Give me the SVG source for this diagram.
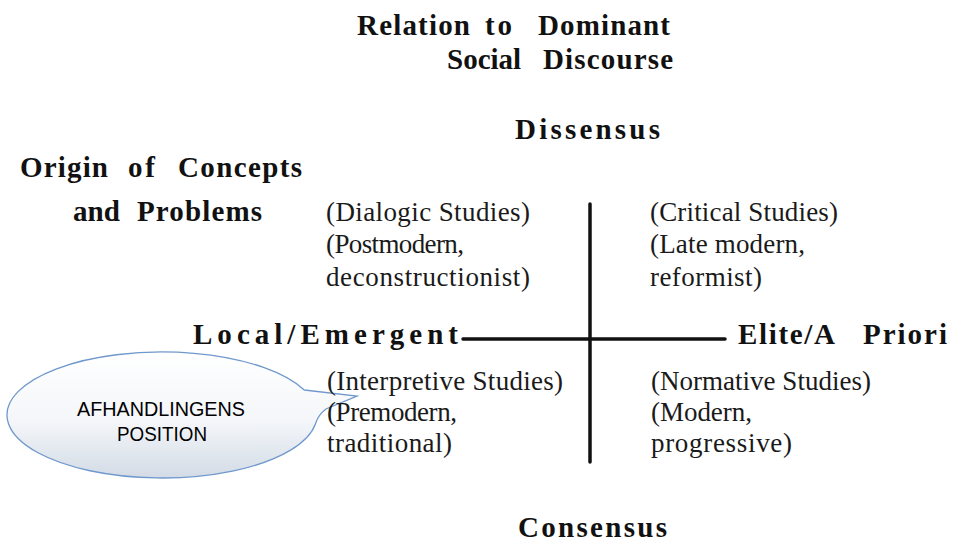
<svg xmlns="http://www.w3.org/2000/svg" width="954" height="542" viewBox="0 0 954 542">
<style>
.h{font-family:"Liberation Serif","Times New Roman",serif;font-weight:bold;font-size:29px;fill:#111}
.q{font-family:"Liberation Serif","Times New Roman",serif;font-size:27px;fill:#1a1a1a}
.c{font-family:"Liberation Sans",Arial,sans-serif;font-size:20px;fill:#000;text-anchor:middle}
.ax{stroke:#111;stroke-width:3.5;stroke-linecap:round;fill:none}
</style>
<defs>
<linearGradient id="cg" x1="0" y1="0" x2="0" y2="1">
<stop offset="0" stop-color="#ffffff"/>
<stop offset="0.55" stop-color="#f4f6f9"/>
<stop offset="1" stop-color="#d3dbe6"/>
</linearGradient>
</defs>
<rect width="954" height="542" fill="#ffffff"/>

<g id="title">
<text class="h" x="357" y="35" textLength="113" lengthAdjust="spacing">Relation</text>
<text class="h" x="485" y="35" textLength="27" lengthAdjust="spacing">to</text>
<text class="h" x="538" y="35" textLength="132" lengthAdjust="spacing">Dominant</text>
<text class="h" x="447" y="69">Social</text>
<text class="h" x="543" y="69" textLength="130" lengthAdjust="spacing">Discourse</text>
</g>

<g id="origin-label">
<text class="h" x="20" y="177" font-size="28" textLength="88" lengthAdjust="spacing">Origin</text>
<text class="h" x="128" y="177" font-size="28" textLength="27" lengthAdjust="spacing">of</text>
<text class="h" x="178" y="177" font-size="28" textLength="124" lengthAdjust="spacing">Concepts</text>
<text class="h" x="73" y="221" font-size="27">and</text>
<text class="h" x="137" y="221" font-size="28" textLength="125" lengthAdjust="spacing">Problems</text>
</g>

<g id="dissensus">
<text class="h" x="515" y="139" font-size="28" textLength="145" lengthAdjust="spacing">Dissensus</text>
</g>
<g id="consensus">
<text class="h" x="518" y="537" font-size="28" textLength="149" lengthAdjust="spacing">Consensus</text>
</g>
<g id="local-emergent">
<text class="h" x="193" y="344" textLength="265" lengthAdjust="spacing">Local/Emergent</text>
</g>
<g id="elite-a-priori">
<text class="h" x="738" y="344" textLength="97" lengthAdjust="spacing">Elite/A</text>
<text class="h" x="863" y="344" textLength="84" lengthAdjust="spacing">Priori</text>
</g>

<g id="connectors">
<line class="ax" x1="463" y1="339" x2="725" y2="339"/>
<line class="ax" x1="590" y1="204" x2="590" y2="462" stroke-width="3"/>
</g>

<g id="callout">
<path d="M 304.3,390 L 357,396 L 326,409 Q 318,415 315.4,424 A 155 63 0 1 1 304.3,390 Z" fill="url(#cg)" stroke="#6f98cc" stroke-width="1.3"/>
<text class="c" x="161" y="416" font-size="21" textLength="168" lengthAdjust="spacingAndGlyphs">AFHANDLINGENS</text>
<text class="c" x="162" y="441" font-size="21" textLength="90" lengthAdjust="spacingAndGlyphs">POSITION</text>
</g>

<g id="dialogic">
<text class="q" x="326" y="221" textLength="204" lengthAdjust="spacing">(Dialogic Studies)</text>
<text class="q" x="326" y="253" textLength="138" lengthAdjust="spacing">(Postmodern,</text>
<text class="q" x="326" y="286" textLength="204" lengthAdjust="spacing">deconstructionist)</text>
</g>
<g id="critical">
<text class="q" x="650" y="221" textLength="188" lengthAdjust="spacing">(Critical Studies)</text>
<text class="q" x="650" y="253" textLength="155" lengthAdjust="spacing">(Late modern,</text>
<text class="q" x="650" y="286" textLength="112" lengthAdjust="spacing">reformist)</text>
</g>
<g id="interpretive">
<text class="q" x="327" y="390" textLength="236" lengthAdjust="spacing">(Interpretive Studies)</text>
<text class="q" x="327" y="421" textLength="130" lengthAdjust="spacing">(Premodern,</text>
<text class="q" x="327" y="452" textLength="125" lengthAdjust="spacing">traditional)</text>
</g>
<g id="normative">
<text class="q" x="651" y="390" textLength="220" lengthAdjust="spacing">(Normative Studies)</text>
<text class="q" x="651" y="421" textLength="101" lengthAdjust="spacing">(Modern,</text>
<text class="q" x="651" y="452" textLength="141" lengthAdjust="spacing">progressive)</text>
</g>
</svg>
